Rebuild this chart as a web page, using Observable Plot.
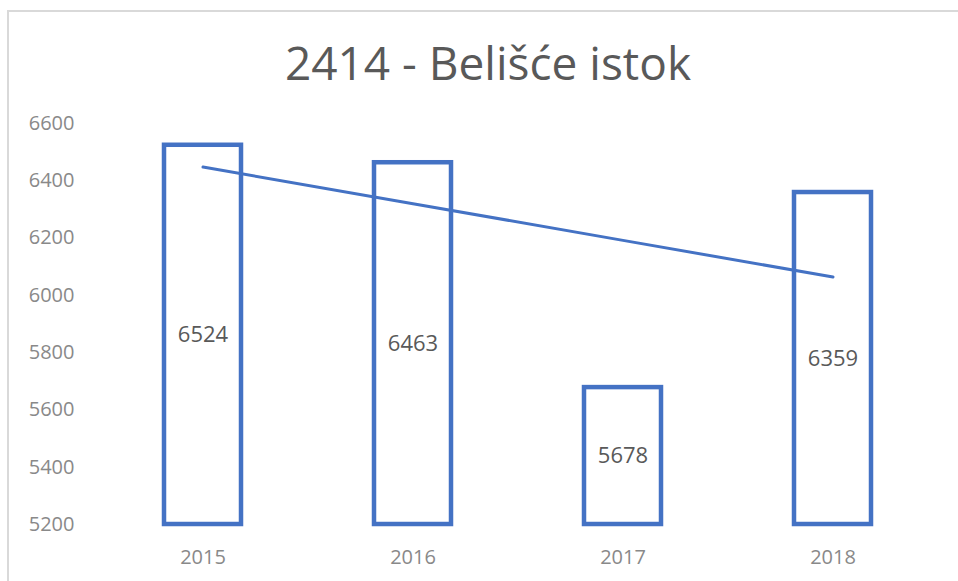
<!DOCTYPE html>
<html>
<head>
<meta charset="utf-8">
<script src="https://cdn.jsdelivr.net/npm/d3@7"></script>
<script src="https://cdn.jsdelivr.net/npm/@observablehq/plot@0.6"></script>
<style>
  html, body { margin: 0; padding: 0; background: #fff; }
  #wrap { position: relative; width: 958px; height: 581px; overflow: hidden; background: #fff; font-family: "Open Sans", sans-serif; }
  #frame { position: absolute; left: 7px; top: 10px; width: 1000px; height: 1000px;
           border-left: 2.5px solid #d9d9d9; border-top: 2.5px solid #d9d9d9; box-sizing: border-box; }
  #title { position: relative; height: 100px; box-sizing: border-box; padding-left: 18px; padding-top: 39px;
           text-align: center; font-size: 46px; line-height: 46px; color: #595959; font-weight: 400; }
  #chart { position: relative; }
</style>
</head>
<body>
<div id="wrap">
  <div id="frame"></div>
  <div id="title">2414 - Belišće istok</div>
  <div id="chart"></div>
</div>
<script>
const years = ["2015", "2016", "2017", "2018"];
const values = [6524, 6463, 5678, 6359];
const yTicks = [5200, 5400, 5600, 5800, 6000, 6200, 6400, 6600];
const baseValue = 5200;
const chartTitle = "2414 - Belišće istok";

document.getElementById("title").textContent = chartTitle;

const data = years.map((y, i) => ({year: y, value: values[i], idx: i}));

// linear trendline (least squares) computed from the values
const n = data.length;
const mx = d3.mean(data, d => d.idx);
const my = d3.mean(data, d => d.value);
const slope = d3.sum(data, d => (d.idx - mx) * (d.value - my)) / d3.sum(data, d => (d.idx - mx) ** 2);
const intercept = my - slope * mx;
const trend = data.map(d => ({year: d.year, value: intercept + slope * d.idx}));

const blue = "#4472C4";

const chart = Plot.plot({
  width: 958,
  height: 481,
  marginTop: 23,
  marginBottom: 57,
  marginLeft: 97,
  marginRight: 19,
  style: {fontFamily: "'Open Sans', sans-serif", background: "transparent", overflow: "visible"},
  x: {domain: years, paddingInner: 0.632, paddingOuter: 0.316, label: null},
  y: {domain: [5200, 6600], ticks: yTicks, label: null},
  marks: [
    Plot.axisY({ticks: yTicks, tickSize: 0, tickPadding: 23, fontSize: 20, color: "#898989", tickFormat: d => String(d), label: null}),
    Plot.axisX({tickSize: 0, tickPadding: 25, fontSize: 20, color: "#898989", label: null}),
    Plot.barY(data, {x: "year", y1: baseValue, y2: "value", fill: "white", stroke: blue, strokeWidth: 4.5}),
    Plot.text(data, {x: "year", y: d => (d.value + baseValue) / 2, text: d => String(d.value), fontSize: 22, fill: "#595959"}),
    Plot.line(trend, {x: "year", y: "value", stroke: blue, strokeWidth: 3, strokeLinecap: "round"})
  ]
});
document.getElementById("chart").appendChild(chart);
</script>
</body>
</html>
